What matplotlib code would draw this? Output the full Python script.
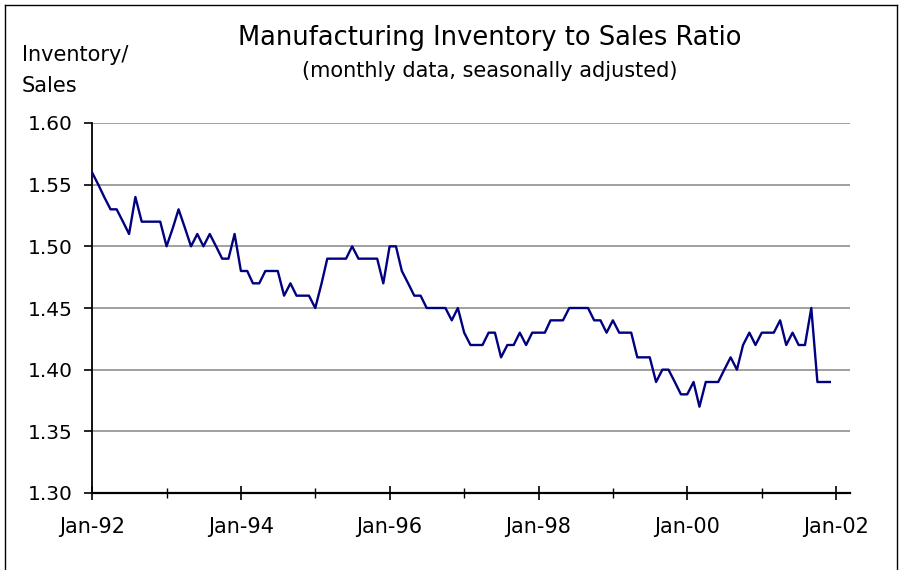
import matplotlib
matplotlib.use("Agg")
import matplotlib.pyplot as plt
import matplotlib.dates as mdates
from matplotlib.lines import Line2D
import pandas as pd

# monthly inventory/sales ratio, Jan-92 .. Dec-01
r1992 = [1.56, 1.55, 1.54, 1.53, 1.53, 1.52, 1.51, 1.54, 1.52, 1.52, 1.52, 1.52]
r1993 = [1.50, 1.515, 1.53, 1.515, 1.50, 1.51, 1.50, 1.51, 1.50, 1.49, 1.49, 1.51]
r1994 = [1.48, 1.48, 1.47, 1.47, 1.48, 1.48, 1.48, 1.46, 1.47, 1.46, 1.46, 1.46]
r1995 = [1.45, 1.47, 1.49, 1.49, 1.49, 1.49, 1.50, 1.49, 1.49, 1.49, 1.49, 1.47]
r1996 = [1.50, 1.50, 1.48, 1.47, 1.46, 1.46, 1.45, 1.45, 1.45, 1.45, 1.44, 1.45]
r1997 = [1.43, 1.42, 1.42, 1.42, 1.43, 1.43, 1.41, 1.42, 1.42, 1.43, 1.42, 1.43]
r1998 = [1.43, 1.43, 1.44, 1.44, 1.44, 1.45, 1.45, 1.45, 1.45, 1.44, 1.44, 1.43]
r1999 = [1.44, 1.43, 1.43, 1.43, 1.41, 1.41, 1.41, 1.39, 1.40, 1.40, 1.39, 1.38]
r2000 = [1.38, 1.39, 1.37, 1.39, 1.39, 1.39, 1.40, 1.41, 1.40, 1.42, 1.43, 1.42]
r2001 = [1.43, 1.43, 1.43, 1.44, 1.42, 1.43, 1.42, 1.42, 1.45, 1.39, 1.39, 1.39]

ratio = r1992 + r1993 + r1994 + r1995 + r1996 + r1997 + r1998 + r1999 + r2000 + r2001
dates = pd.date_range("1992-01-01", periods=len(ratio), freq="MS")

y_ticks = [1.30, 1.35, 1.40, 1.45, 1.50, 1.55, 1.60]
x_label_years = [1992, 1994, 1996, 1998, 2000, 2002]

# the original text is wide / letter-spaced, DejaVu Sans gets closest
plt.rcParams["font.family"] = ["DejaVu Sans"]

fig = plt.figure(figsize=(9.02, 5.70), dpi=100)
ax = fig.add_axes([92 / 902, 1 - 493 / 570, (850 - 92) / 902, (493 - 123) / 570])

ax.plot(dates, ratio, color="#000080", lw=1.7, zorder=3)

ax.set_ylim(1.30, 1.60)
ax.set_yticks(y_ticks)
ax.set_yticklabels([f"{v:.2f}" for v in y_ticks], fontsize=14.5)
ax.grid(axis="y", color="#999999", lw=1.3)
ax.set_axisbelow(True)

ax.set_xlim(pd.Timestamp("1992-01-01"), pd.Timestamp("2002-03-10"))
ax.xaxis.set_major_locator(mdates.YearLocator(2))
ax.xaxis.set_minor_locator(mdates.YearLocator(1))
ax.set_xticks([pd.Timestamp(f"{y}-01-01") for y in x_label_years])
ax.set_xticklabels([f"Jan-{y % 100:02d}" for y in x_label_years], fontsize=15)

for s in ["top", "right"]:
    ax.spines[s].set_visible(False)
ax.spines["left"].set_linewidth(1.3)
ax.spines["bottom"].set_linewidth(1.6)
ax.tick_params(axis="y", direction="out", length=6, width=1.2, pad=8)
ax.tick_params(axis="x", which="major", direction="inout", length=10, width=1.2, pad=12)
ax.tick_params(axis="x", which="minor", direction="inout", length=7, width=1.0)

fig.text(490 / 902, 1 - 38 / 570, "Manufacturing Inventory to Sales Ratio",
         ha="center", va="center", fontsize=18.5)
fig.text(490 / 902, 1 - 71 / 570, "(monthly data, seasonally adjusted)",
         ha="center", va="center", fontsize=15)
fig.text(22 / 902, 1 - 55 / 570, "Inventory/", ha="left", va="center", fontsize=15)
fig.text(22 / 902, 1 - 86 / 570, "Sales", ha="left", va="center", fontsize=15)

# border around the chart area
for xs, ys in [([5 / 902, 5 / 902], [0, 1 - 5 / 570]),
               ([5 / 902, 897 / 902], [1 - 5 / 570, 1 - 5 / 570]),
               ([897 / 902, 897 / 902], [0, 1 - 5 / 570])]:
    fig.add_artist(Line2D(xs, ys, color="black", lw=1.0, transform=fig.transFigure))

fig.savefig("out.png", dpi=100)
